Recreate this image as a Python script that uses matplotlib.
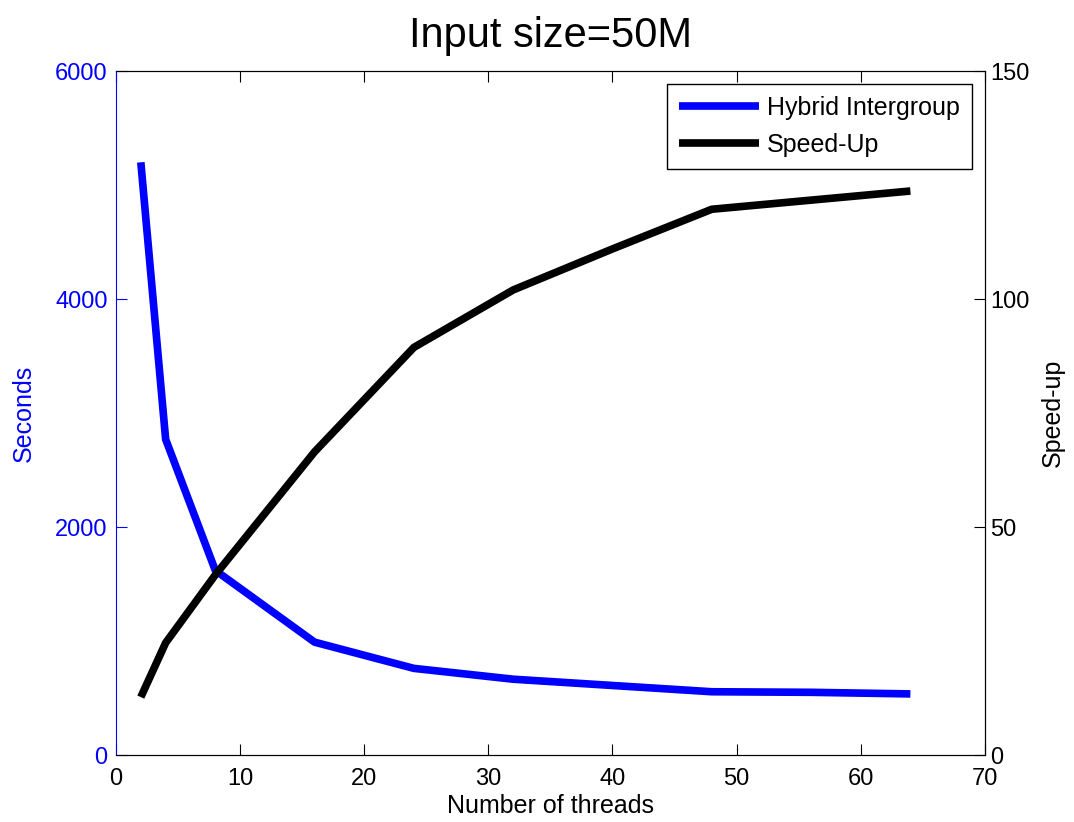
import matplotlib
matplotlib.use("Agg")
import matplotlib.pyplot as plt

plt.rcParams['font.family'] = ['Liberation Sans', 'DejaVu Sans']

# thread counts and measured times / speed-ups
threads = [2, 4, 8, 16, 24, 32, 40, 48, 56, 64]
seconds = [5200, 2770, 1620, 990, 760, 665, 610, 555, 550, 536]
speedup = [12.7, 24.6, 39.5, 66.5, 89.4, 102.0, 111.0, 119.7, 121.7, 123.7]

blue = '#0000ff'

fig = plt.figure(figsize=(10.74, 8.22), dpi=100)
ax = fig.add_axes([0.108, 0.0815, 0.809, 0.832])
ax2 = ax.twinx()

l1, = ax.plot(threads, seconds, color=blue, lw=5.5, solid_capstyle='butt',
              label='Hybrid Intergroup')
l2, = ax2.plot(threads, speedup, color='black', lw=5.5, solid_capstyle='butt',
               label='Speed-Up')

ax.set_xlim(0, 70)
ax.set_xticks(range(0, 71, 10))
ax.set_ylim(0, 6000)
ax.set_yticks([0, 2000, 4000, 6000])
ax2.set_ylim(0, 150)
ax2.set_yticks([0, 50, 100, 150])

ax.tick_params(axis='x', direction='in', top=True, length=8, labelsize=17,
               colors='black', pad=9)
ax.tick_params(axis='y', direction='in', length=8, labelsize=17,
               colors=blue, pad=6)
ax2.tick_params(axis='y', direction='in', length=8, labelsize=17,
                colors='black', pad=4)

for s in ['top', 'bottom', 'right']:
    ax.spines[s].set_color('black')
    ax2.spines[s].set_color('black')
ax.spines['left'].set_color(blue)
ax2.spines['left'].set_visible(False)

ax.set_xlabel('Number of threads', fontsize=18, labelpad=3)
ax.set_ylabel('Seconds', fontsize=18, color=blue, labelpad=14)
ax2.set_ylabel('Speed-up', fontsize=18, color='black', labelpad=8)
ax.set_title('Input size=50M', fontsize=30, pad=17)

leg = ax2.legend([l1, l2], ['Hybrid Intergroup', 'Speed-Up'], loc='upper right',
                 fontsize=18, fancybox=False, framealpha=1, edgecolor='black',
                 handlelength=3.2, borderaxespad=0.5, labelspacing=0.5,
                 handletextpad=0.3, borderpad=0.5)
leg.get_frame().set_linewidth(1.0)

fig.savefig('out.png', dpi=100)
